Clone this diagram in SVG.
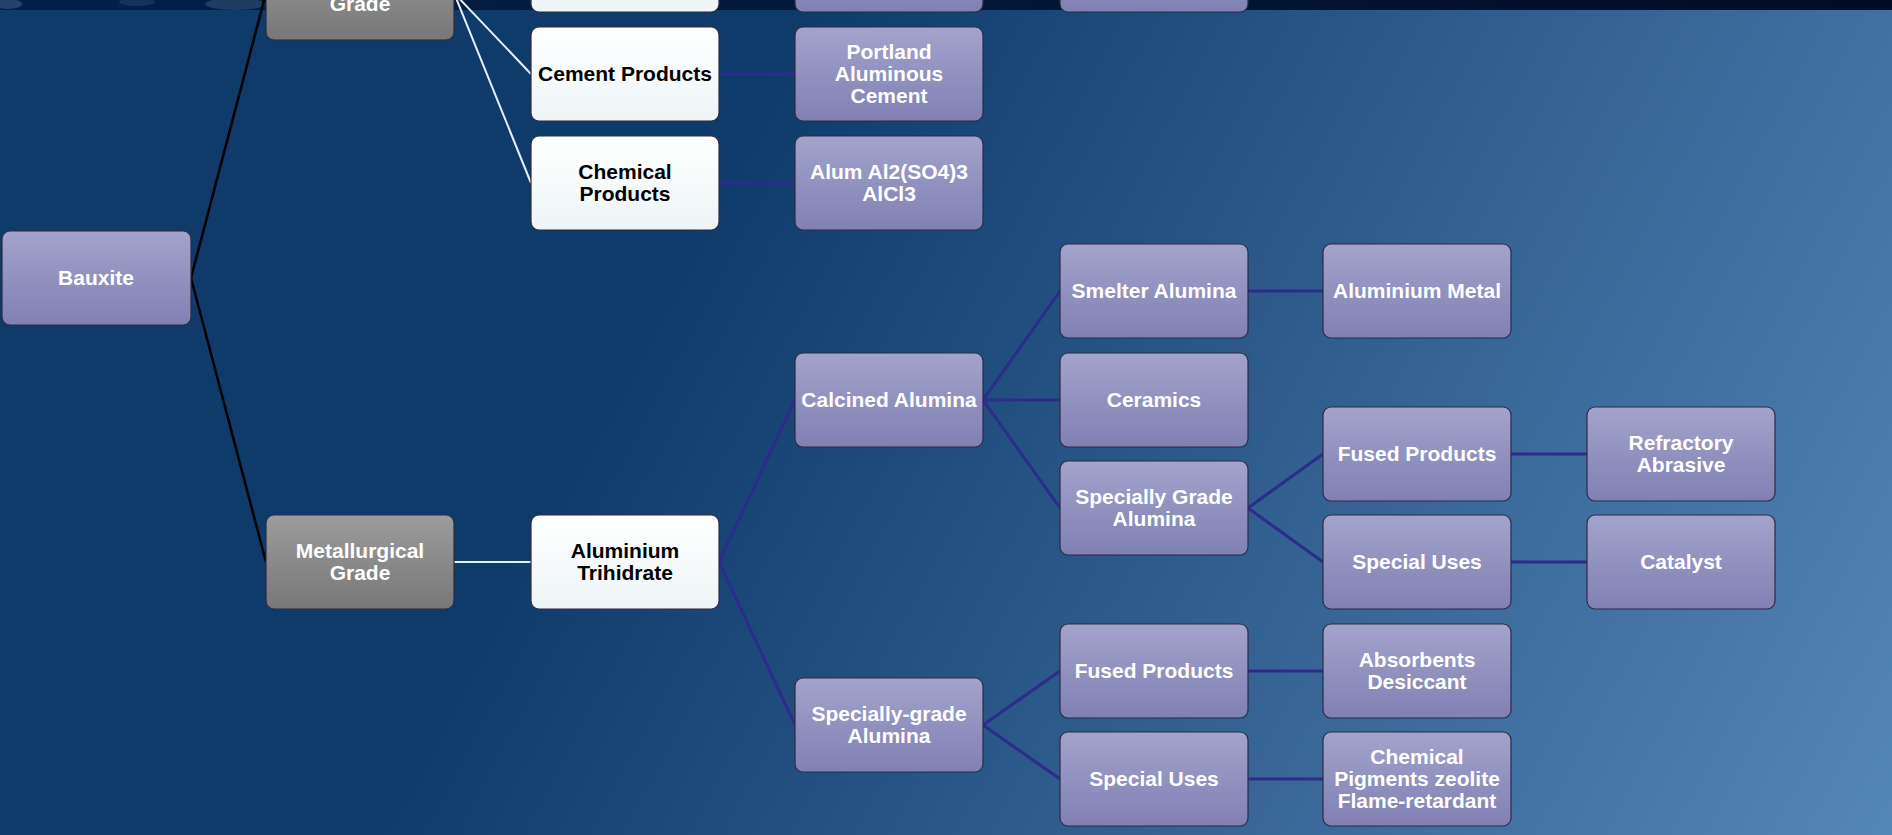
<svg xmlns="http://www.w3.org/2000/svg" width="1892" height="835" viewBox="0 0 1892 835">
<defs>
<linearGradient id="bg" gradientUnits="userSpaceOnUse" x1="700" y1="200" x2="1892" y2="835">
<stop offset="0" stop-color="#0f3b6b"/>
<stop offset="1" stop-color="#5586b8"/>
</linearGradient>
<linearGradient id="gp" x1="0" y1="0" x2="0" y2="1">
<stop offset="0" stop-color="#a3a3cc"/>
<stop offset="1" stop-color="#8080b4"/>
</linearGradient>
<linearGradient id="gw" x1="0" y1="0" x2="0" y2="1">
<stop offset="0" stop-color="#ffffff"/>
<stop offset="1" stop-color="#edf5f7"/>
</linearGradient>
<linearGradient id="gg" x1="0" y1="0" x2="0" y2="1">
<stop offset="0" stop-color="#9c9c9c"/>
<stop offset="1" stop-color="#777777"/>
</linearGradient>
<linearGradient id="band" x1="0" y1="0" x2="1" y2="0">
<stop offset="0" stop-color="#04204a"/>
<stop offset="0.5" stop-color="#021838"/>
<stop offset="1" stop-color="#000c24"/>
</linearGradient>
</defs>
<style>
.box{stroke:#2b2b44;stroke-width:1.2}
.p{fill:url(#gp)}
.w{fill:url(#gw)}
.g{fill:url(#gg)}
text{font-family:"Liberation Sans",Arial,sans-serif;font-weight:bold;font-size:21px;text-anchor:middle}
.lt{fill:#ffffff}
.dk{fill:#000000}
.cb{stroke:#000000;stroke-width:2.5;fill:none}
.cw{stroke:#e4f2f6;stroke-width:2;fill:none}
.cp{stroke:#2d2b8c;stroke-width:3;fill:none}
</style>
<rect width="1892" height="835" fill="url(#bg)"/>
<rect x="0" y="0" width="1892" height="10" fill="url(#band)"/>
<ellipse cx="8" cy="4" rx="14" ry="5" fill="#3a5a80" opacity="0.6"/>
<ellipse cx="137" cy="2" rx="18" ry="4" fill="#3a5a80" opacity="0.35"/>
<ellipse cx="235" cy="4" rx="30" ry="6" fill="#3a5a80" opacity="0.5"/>

<g id="connectors">
<path class="cb" d="M191 278 L266 -7"/>
<path class="cb" d="M191 278 L266 562"/>
<path class="cw" d="M454 -7 L531 -35"/>
<path class="cw" d="M454 -7 L531 74"/>
<path class="cw" d="M454 -7 L531 183"/>
<path class="cw" d="M454 562 L531 562"/>
<path class="cp" d="M719 74 L795 74"/>
<path class="cp" d="M719 183 L795 183"/>
<path class="cp" d="M719 562 L795 400"/>
<path class="cp" d="M719 562 L795 725"/>
<path class="cp" d="M983 400 L1060 291"/>
<path class="cp" d="M983 400 L1060 400"/>
<path class="cp" d="M983 400 L1060 508"/>
<path class="cp" d="M1248 291 L1323 291"/>
<path class="cp" d="M1248 508 L1323 454"/>
<path class="cp" d="M1248 508 L1323 562"/>
<path class="cp" d="M1511 454 L1587 454"/>
<path class="cp" d="M1511 562 L1587 562"/>
<path class="cp" d="M983 725 L1060 671"/>
<path class="cp" d="M983 725 L1060 779"/>
<path class="cp" d="M1248 671 L1323 671"/>
<path class="cp" d="M1248 779 L1323 779"/>
</g>

<g id="n-grade-top"><rect class="box g" x="266" y="-54" width="188" height="94" rx="8"/><text class="lt" x="360" y="11">Grade</text></g>
<g id="n-col2-top"><rect class="box w" x="531" y="-82" width="188" height="94" rx="8"/></g>
<g id="n-col3-top"><rect class="box p" x="795" y="-82" width="188" height="94" rx="8"/></g>
<g id="n-col4-top"><rect class="box p" x="1060" y="-82" width="188" height="94" rx="8"/></g>

<g id="n-cement"><rect class="box w" x="531" y="27" width="188" height="94" rx="8"/><text class="dk" x="625" y="81">Cement Products</text></g>
<g id="n-chemical"><rect class="box w" x="531" y="136" width="188" height="94" rx="8"/><text class="dk" x="625" y="179">Chemical</text><text class="dk" x="625" y="201">Products</text></g>
<g id="n-portland"><rect class="box p" x="795" y="27" width="188" height="94" rx="8"/><text class="lt" x="889" y="59">Portland</text><text class="lt" x="889" y="81">Aluminous</text><text class="lt" x="889" y="103">Cement</text></g>
<g id="n-alum"><rect class="box p" x="795" y="136" width="188" height="94" rx="8"/><text class="lt" x="889" y="179">Alum Al2(SO4)3</text><text class="lt" x="889" y="201">AlCl3</text></g>

<g id="n-bauxite"><rect class="box p" x="2" y="231" width="189" height="94" rx="8"/><text class="lt" x="96" y="285">Bauxite</text></g>
<g id="n-metallurgical"><rect class="box g" x="266" y="515" width="188" height="94" rx="8"/><text class="lt" x="360" y="558">Metallurgical</text><text class="lt" x="360" y="580">Grade</text></g>
<g id="n-ath"><rect class="box w" x="531" y="515" width="188" height="94" rx="8"/><text class="dk" x="625" y="558">Aluminium</text><text class="dk" x="625" y="580">Trihidrate</text></g>

<g id="n-calcined"><rect class="box p" x="795" y="353" width="188" height="94" rx="8"/><text class="lt" x="889" y="407">Calcined Alumina</text></g>
<g id="n-specially-grade-alumina-col3"><rect class="box p" x="795" y="678" width="188" height="94" rx="8"/><text class="lt" x="889" y="721">Specially-grade</text><text class="lt" x="889" y="743">Alumina</text></g>

<g id="n-smelter"><rect class="box p" x="1060" y="244" width="188" height="94" rx="8"/><text class="lt" x="1154" y="298">Smelter Alumina</text></g>
<g id="n-ceramics"><rect class="box p" x="1060" y="353" width="188" height="94" rx="8"/><text class="lt" x="1154" y="407">Ceramics</text></g>
<g id="n-specially-grade"><rect class="box p" x="1060" y="461" width="188" height="94" rx="8"/><text class="lt" x="1154" y="504">Specially Grade</text><text class="lt" x="1154" y="526">Alumina</text></g>
<g id="n-fused-col4"><rect class="box p" x="1060" y="624" width="188" height="94" rx="8"/><text class="lt" x="1154" y="678">Fused Products</text></g>
<g id="n-special-uses-col4"><rect class="box p" x="1060" y="732" width="188" height="94" rx="8"/><text class="lt" x="1154" y="786">Special Uses</text></g>

<g id="n-aluminium-metal"><rect class="box p" x="1323" y="244" width="188" height="94" rx="8"/><text class="lt" x="1417" y="298">Aluminium Metal</text></g>
<g id="n-fused-col5"><rect class="box p" x="1323" y="407" width="188" height="94" rx="8"/><text class="lt" x="1417" y="461">Fused Products</text></g>
<g id="n-special-uses-col5"><rect class="box p" x="1323" y="515" width="188" height="94" rx="8"/><text class="lt" x="1417" y="569">Special Uses</text></g>
<g id="n-absorbents"><rect class="box p" x="1323" y="624" width="188" height="94" rx="8"/><text class="lt" x="1417" y="667">Absorbents</text><text class="lt" x="1417" y="689">Desiccant</text></g>
<g id="n-chemical-pigments"><rect class="box p" x="1323" y="732" width="188" height="94" rx="8"/><text class="lt" x="1417" y="764">Chemical</text><text class="lt" x="1417" y="786">Pigments zeolite</text><text class="lt" x="1417" y="808">Flame-retardant</text></g>

<g id="n-refractory"><rect class="box p" x="1587" y="407" width="188" height="94" rx="8"/><text class="lt" x="1681" y="450">Refractory</text><text class="lt" x="1681" y="472">Abrasive</text></g>
<g id="n-catalyst"><rect class="box p" x="1587" y="515" width="188" height="94" rx="8"/><text class="lt" x="1681" y="569">Catalyst</text></g>
</svg>
